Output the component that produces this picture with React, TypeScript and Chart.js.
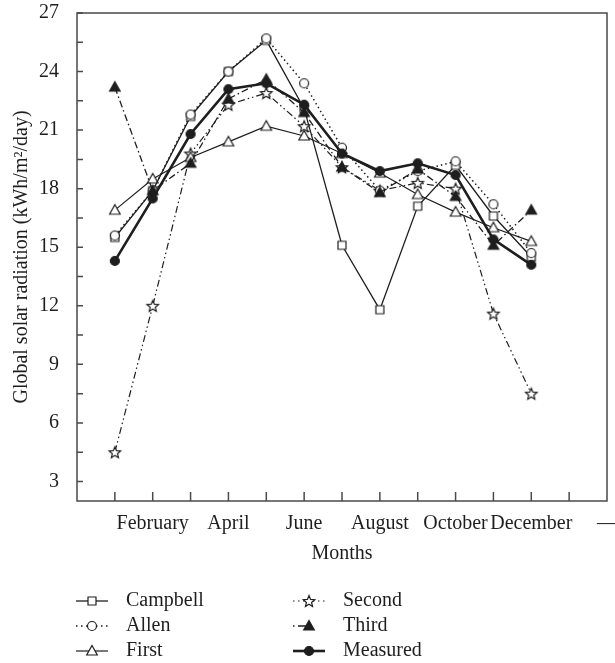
import { useEffect, useRef } from 'react';
import { Chart, registerables } from 'chart.js';

Chart.register(...registerables);

// ---- data ----
const months = ['January', 'February', 'March', 'April', 'May', 'June', 'July', 'August', 'September', 'October', 'November', 'December'];
const xTickText = ['', 'February', '', 'April', '', 'June', '', 'August', '', 'October', '', 'December', '', '—'];
const yTickValues = [3, 6, 9, 12, 15, 18, 21, 24, 27];
const yMinorTickValues = [4.5, 7.5, 10.5, 13.5, 16.5, 19.5, 22.5, 25.5];

const campbell = [15.5, 17.9, 21.7, 24.0, 25.6, 22.1, 15.1, 11.8, 17.1, 19.2, 16.6, 14.5];
const allen = [15.6, 17.9, 21.8, 24.0, 25.7, 23.4, 20.1, 17.9, 18.9, 19.4, 17.2, 14.7];
const first = [16.9, 18.5, 19.6, 20.4, 21.2, 20.7, 19.8, 18.8, 17.7, 16.8, 16.0, 15.3];
const second = [4.5, 12.0, 19.8, 22.3, 22.9, 21.2, 19.1, 17.9, 18.3, 18.0, 11.6, 7.5];
const third = [23.2, 17.9, 19.3, 22.6, 23.6, 21.9, 19.1, 17.8, 19.0, 17.6, 15.1, 16.9];
const measured = [14.3, 17.5, 20.8, 23.1, 23.4, 22.3, 19.8, 18.9, 19.3, 18.7, 15.4, 14.1];

const seriesNames = ['Campbell', 'Allen', 'First', 'Second', 'Third', 'Measured'];

const INK = '#1e1e1e';
const FONT = '"Liberation Serif", "DejaVu Serif", "Times New Roman", serif';

type Shape = 'square' | 'circle' | 'triangle' | 'star';

function makeMarker(shape: Shape, filled: boolean): HTMLCanvasElement {
  const S = 16;
  const c = document.createElement('canvas');
  c.width = S;
  c.height = S;
  const ctx = c.getContext('2d')!;
  const m = S / 2;
  ctx.lineWidth = 1.2;
  ctx.strokeStyle = INK;
  ctx.fillStyle = filled ? INK : '#ffffff';
  ctx.beginPath();
  if (shape === 'square') {
    ctx.rect(m - 4, m - 4, 8, 8);
  } else if (shape === 'circle') {
    ctx.arc(m, m, 4.5, 0, Math.PI * 2);
  } else if (shape === 'triangle') {
    ctx.moveTo(m, m - 5.5);
    ctx.lineTo(m + 5.3, m + 4);
    ctx.lineTo(m - 5.3, m + 4);
    ctx.closePath();
  } else {
    for (let k = 0; k < 10; k++) {
      const a = -Math.PI / 2 + (k * Math.PI) / 5;
      const rad = k % 2 === 0 ? 6 : 2.7;
      const px = m + rad * Math.cos(a);
      const py = m + 0.6 + rad * Math.sin(a);
      if (k === 0) ctx.moveTo(px, py);
      else ctx.lineTo(px, py);
    }
    ctx.closePath();
  }
  ctx.fill();
  ctx.stroke();
  return c;
}

export default function App() {
  const ref = useRef<HTMLCanvasElement>(null);

  useEffect(() => {
    const canvas = ref.current!;
    const markers = [
      makeMarker('square', false),
      makeMarker('circle', false),
      makeMarker('triangle', false),
      makeMarker('star', false),
      makeMarker('triangle', true),
      makeMarker('circle', true),
    ];
    const values = [campbell, allen, first, second, third, measured];
    const dashes: number[][] = [[], [1.5, 3], [], [7, 3, 1.5, 3, 1.5, 3], [7, 3, 1.5, 3], []];
    const widths = [1.3, 1.5, 1.2, 1.2, 1.3, 2.6];
    const orders = [5, 2, 3, 4, 1, 0];
    const legendDash: number[][] = [[], [1.5, 3.5], [], [1.5, 3.5], [1.5, 3.5, 8, 100], []];

    const datasets = values.map((arr, i) => ({
      label: seriesNames[i],
      data: arr.map((v, j) => ({ x: j + 1, y: v, month: months[j] })),
      borderColor: INK,
      backgroundColor: INK,
      borderWidth: widths[i],
      borderDash: dashes[i],
      pointStyle: markers[i],
      pointRadius: 5,
      tension: 0,
      fill: false,
      order: orders[i],
    }));

    const framePlugin = {
      id: 'frame',
      afterDraw(chart: any) {
        const { ctx, chartArea } = chart;
        const xs = chart.scales.x;
        const ys = chart.scales.y;
        ctx.save();
        ctx.strokeStyle = '#4a4a4a';
        ctx.lineWidth = 1.5;
        ctx.strokeRect(chartArea.left, chartArea.top, chartArea.right - chartArea.left, chartArea.bottom - chartArea.top);
        ctx.beginPath();
        for (let i = 1; i < xTickText.length; i++) {
          const px = xs.getPixelForValue(i);
          ctx.moveTo(px, chartArea.bottom);
          ctx.lineTo(px, chartArea.bottom - 9);
        }
        [...yTickValues, ...yMinorTickValues].forEach((v) => {
          const py = ys.getPixelForValue(v);
          ctx.moveTo(chartArea.left, py);
          ctx.lineTo(chartArea.left + 6, py);
        });
        ctx.stroke();

        // legend
        const colX = [76, 293];
        const textX = [126, 343];
        const rowY = [601, 626, 651];
        const lineLen = 32;
        seriesNames.forEach((name, i) => {
          const col = Math.floor(i / 3);
          const row = i % 3;
          const x1 = colX[col];
          const y = rowY[row];
          const mx = x1 + lineLen / 2;
          ctx.save();
          ctx.strokeStyle = INK;
          ctx.lineWidth = widths[i];
          ctx.setLineDash(legendDash[i]);
          ctx.beginPath();
          ctx.moveTo(x1, y);
          ctx.lineTo(x1 + lineLen, y);
          ctx.stroke();
          ctx.restore();
          const mk = markers[i];
          ctx.drawImage(mk, mx - mk.width / 2, y - mk.height / 2);
          ctx.fillStyle = INK;
          ctx.font = `20px ${FONT}`;
          ctx.textBaseline = 'middle';
          ctx.textAlign = 'left';
          ctx.fillText(name, textX[col], y);
        });
        ctx.restore();
      },
    };

    const chart = new Chart(canvas, {
      type: 'line',
      data: { datasets },
      options: {
        responsive: false,
        animation: false,
        events: [],
        layout: { padding: { top: 13, right: 8, bottom: 95, left: 0 } },
        plugins: {
          legend: { display: false },
          tooltip: { enabled: false },
        },
        scales: {
          x: {
            type: 'linear',
            min: 0,
            max: 14,
            afterBuildTicks: (s: any) => {
              s.ticks = xTickText.map((_, i) => ({ value: i + 1 }));
            },
            afterFit: (s: any) => {
              s.height = 67;
              s.paddingLeft = 0;
              s.paddingRight = 0;
            },
            ticks: {
              autoSkip: false,
              maxRotation: 0,
              minRotation: 0,
              padding: 3,
              color: INK,
              font: { family: FONT, size: 20 },
              callback: (v: any) => xTickText[Number(v) - 1] ?? '',
            },
            grid: { display: false },
            border: { display: false },
            title: {
              display: true,
              text: 'Months',
              color: INK,
              font: { family: FONT, size: 20 },
              padding: { top: 0, bottom: 2 },
            },
          },
          y: {
            type: 'linear',
            min: 2,
            max: 27,
            afterBuildTicks: (s: any) => {
              s.ticks = yTickValues.map((v) => ({ value: v }));
            },
            afterFit: (s: any) => {
              s.width = 77;
              s.paddingTop = 0;
              s.paddingBottom = 0;
            },
            ticks: {
              padding: 10,
              color: INK,
              font: { family: FONT, size: 20 },
              callback: (v: any) => String(v),
            },
            grid: { display: false },
            border: { display: false },
            title: {
              display: true,
              text: 'Global solar radiation (kWh/m²/day)',
              color: INK,
              font: { family: FONT, size: 20 },
              padding: { top: 10, bottom: 0 },
            },
          },
        },
      },
      plugins: [framePlugin],
    } as any);

    return () => chart.destroy();
  }, []);

  return (
    <div style={{ position: 'absolute', left: 0, top: 0, width: 615, height: 663, background: '#fff' }}>
      <canvas ref={ref} width={615} height={663} style={{ display: 'block' }} />
    </div>
  );
}
